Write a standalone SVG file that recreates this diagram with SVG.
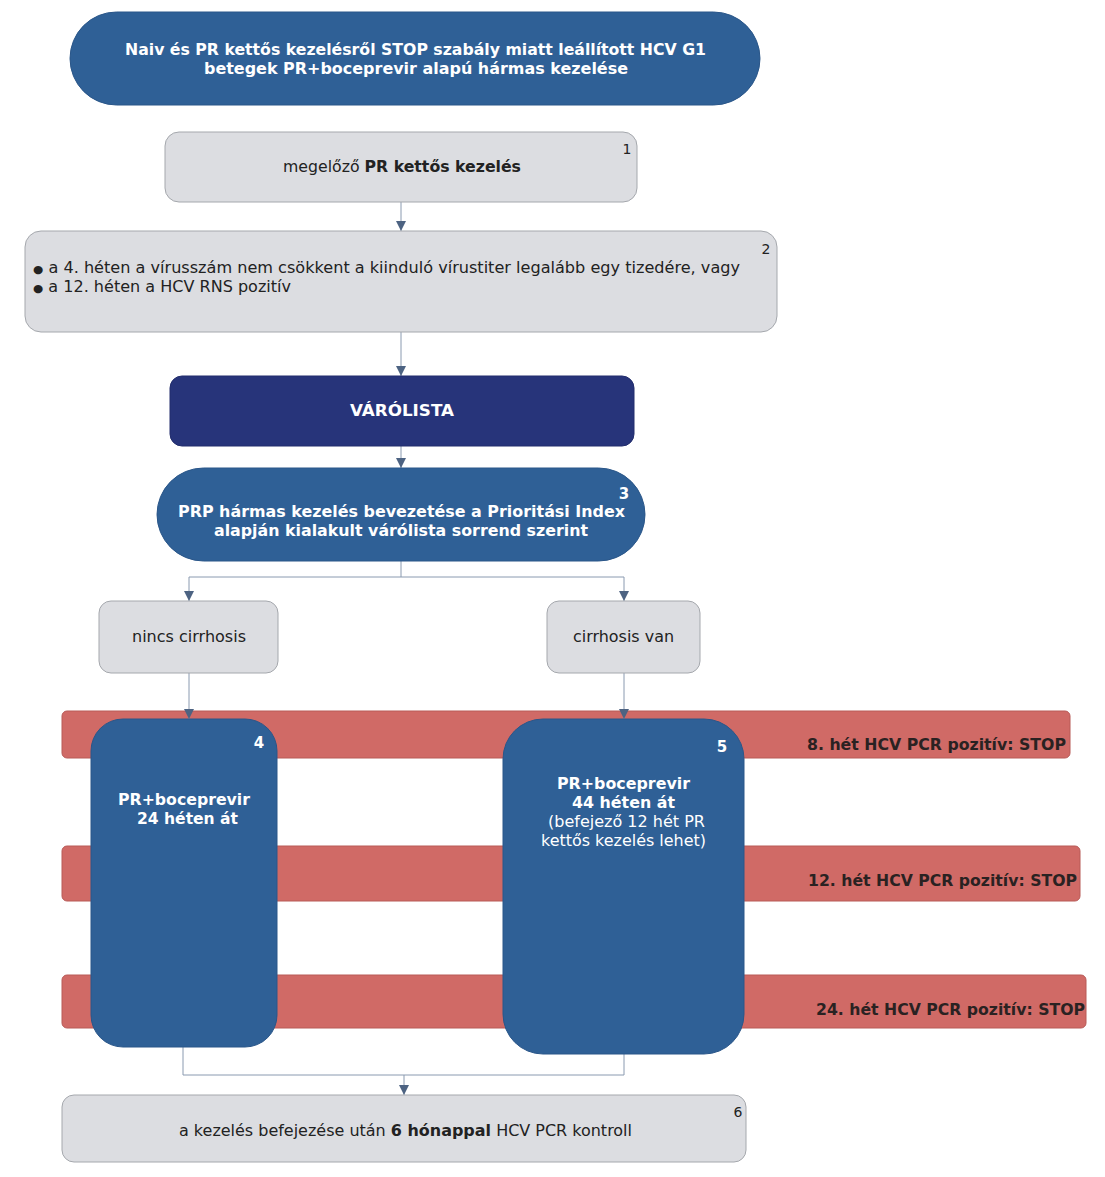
<svg xmlns="http://www.w3.org/2000/svg" width="1105" height="1177" viewBox="0 0 1105 1177">
<defs>
<marker id="arr" viewBox="0 0 10 10" refX="10" refY="5" markerWidth="10" markerHeight="10" markerUnits="userSpaceOnUse" orient="auto">
<path d="M0,0 L10,5 L0,10 z" fill="#4d6382"/>
</marker>
</defs>
<style>
text{font-family:"DejaVu Sans","Liberation Sans",sans-serif;}
.blue{fill:#2f6096;stroke:#2a5689;stroke-width:1}
.gray{fill:#dcdde1;stroke:#a5a8ad;stroke-width:1}
.navy{fill:#27347a;stroke:#222d6c;stroke-width:1}
.red{fill:#d06a66;stroke:#b85a57;stroke-width:1}
.wb{fill:#ffffff;font-weight:bold;font-size:15px;text-anchor:middle}
.wr{fill:#ffffff;font-size:15px;text-anchor:middle}
.dk{fill:#222222;font-size:15px}
.num{font-size:14px}
.stop{fill:#2a2222;font-weight:bold;font-size:15px;text-anchor:end}
.conn{fill:none;stroke:#8a9ab0;stroke-width:1}
</style>
<rect width="1105" height="1177" fill="#ffffff"/>
<g id="bars">
<rect id="bar8" class="red" x="62" y="711" width="1008" height="47" rx="5"/>
<text class="stop" x="1066" y="750" textLength="259" lengthAdjust="spacingAndGlyphs">8. hét HCV PCR pozitív: STOP</text>
<rect id="bar12" class="red" x="62" y="846" width="1018" height="55" rx="5"/>
<text class="stop" x="1077" y="886" textLength="269" lengthAdjust="spacingAndGlyphs">12. hét HCV PCR pozitív: STOP</text>
<rect id="bar24" class="red" x="62" y="975" width="1024" height="53" rx="5"/>
<text class="stop" x="1085" y="1015" textLength="269" lengthAdjust="spacingAndGlyphs">24. hét HCV PCR pozitív: STOP</text>
</g>
<g id="connectors">
<line class="conn" x1="401" y1="202" x2="401" y2="231" marker-end="url(#arr)"/>
<line class="conn" x1="401" y1="332" x2="401" y2="376" marker-end="url(#arr)"/>
<line class="conn" x1="401" y1="446" x2="401" y2="468" marker-end="url(#arr)"/>
<polyline class="conn" points="401,561 401,577 189,577 189,601" marker-end="url(#arr)"/>
<polyline class="conn" points="401,577 624,577 624,601" marker-end="url(#arr)"/>
<line class="conn" x1="189" y1="673" x2="189" y2="719" marker-end="url(#arr)"/>
<line class="conn" x1="624" y1="673" x2="624" y2="719" marker-end="url(#arr)"/>
<polyline class="conn" points="183,1047 183,1075 624,1075 624,1054"/>
<line class="conn" x1="404" y1="1075" x2="404" y2="1095" marker-end="url(#arr)"/>
</g>
<g id="title">
<rect class="blue" x="70" y="12" width="690" height="93" rx="46.5"/>
<text class="wb" x="415.5" y="55" textLength="581" lengthAdjust="spacingAndGlyphs">Naiv és PR kettős kezelésről STOP szabály miatt leállított HCV G1</text>
<text class="wb" x="416" y="74" textLength="424" lengthAdjust="spacingAndGlyphs">betegek  PR+boceprevir alapú hármas kezelése</text>
</g>
<g id="n1">
<rect class="gray" x="165" y="132" width="472" height="70" rx="14"/>
<text class="dk" x="402" y="172" text-anchor="middle" textLength="238" lengthAdjust="spacingAndGlyphs">megelőző <tspan font-weight="bold">PR kettős kezelés</tspan></text>
<text class="dk num" x="627" y="154" text-anchor="middle">1</text>
</g>
<g id="n2">
<rect class="gray" x="25" y="231" width="752" height="101" rx="16"/>
<text class="dk" x="33" y="273" textLength="707" lengthAdjust="spacingAndGlyphs"><tspan font-size="11px">●</tspan> a 4. héten a vírusszám nem csökkent a kiinduló vírustiter legalább  egy tizedére, vagy</text>
<text class="dk" x="33" y="292" textLength="258" lengthAdjust="spacingAndGlyphs"><tspan font-size="11px">●</tspan> a 12. héten a HCV RNS pozitív</text>
<text class="dk num" x="766" y="254" text-anchor="middle">2</text>
</g>
<g id="varolista">
<rect class="navy" x="170" y="376" width="464" height="70" rx="12"/>
<text class="wb" x="402" y="416" textLength="104" lengthAdjust="spacingAndGlyphs">VÁRÓLISTA</text>
</g>
<g id="n3">
<rect class="blue" x="157" y="468" width="488" height="93" rx="46.5"/>
<text class="wb" x="401.5" y="517" textLength="447" lengthAdjust="spacingAndGlyphs">PRP hármas kezelés bevezetése a Prioritási Index</text>
<text class="wb" x="401" y="536" textLength="374" lengthAdjust="spacingAndGlyphs">alapján kialakult várólista sorrend szerint</text>
<text class="wb" x="624" y="499">3</text>
</g>
<g id="nocirr">
<rect class="gray" x="99" y="601" width="179" height="72" rx="12"/>
<text class="dk" x="189" y="642" text-anchor="middle" textLength="114" lengthAdjust="spacingAndGlyphs">nincs cirrhosis</text>
</g>
<g id="cirr">
<rect class="gray" x="547" y="601" width="153" height="72" rx="12"/>
<text class="dk" x="623.5" y="642" text-anchor="middle" textLength="101" lengthAdjust="spacingAndGlyphs">cirrhosis van</text>
</g>
<g id="n4">
<rect class="blue" x="91" y="719" width="186" height="328" rx="32"/>
<text class="wb" x="259" y="748">4</text>
<text class="wb" x="184" y="805" textLength="132" lengthAdjust="spacingAndGlyphs">PR+boceprevir</text>
<text class="wb" x="187.5" y="824" textLength="101" lengthAdjust="spacingAndGlyphs">24 héten át</text>
</g>
<g id="n5">
<rect class="blue" x="503" y="719" width="241" height="335" rx="40"/>
<text class="wb" x="722" y="752">5</text>
<text class="wb" x="623.5" y="789" textLength="133" lengthAdjust="spacingAndGlyphs">PR+boceprevir</text>
<text class="wb" x="623.5" y="808" textLength="103" lengthAdjust="spacingAndGlyphs">44 héten át</text>
<text class="wr" x="626.5" y="827" textLength="157" lengthAdjust="spacingAndGlyphs">(befejező 12 hét PR</text>
<text class="wr" x="623.5" y="846" textLength="165" lengthAdjust="spacingAndGlyphs">kettős kezelés lehet)</text>
</g>
<g id="n6">
<rect class="gray" x="62" y="1095" width="684" height="67" rx="12"/>
<text class="dk" x="405.5" y="1136" text-anchor="middle" textLength="453" lengthAdjust="spacingAndGlyphs">a kezelés befejezése után <tspan font-weight="bold">6 hónappal</tspan> HCV PCR kontroll</text>
<text class="dk num" x="738" y="1117" text-anchor="middle">6</text>
</g>
</svg>
